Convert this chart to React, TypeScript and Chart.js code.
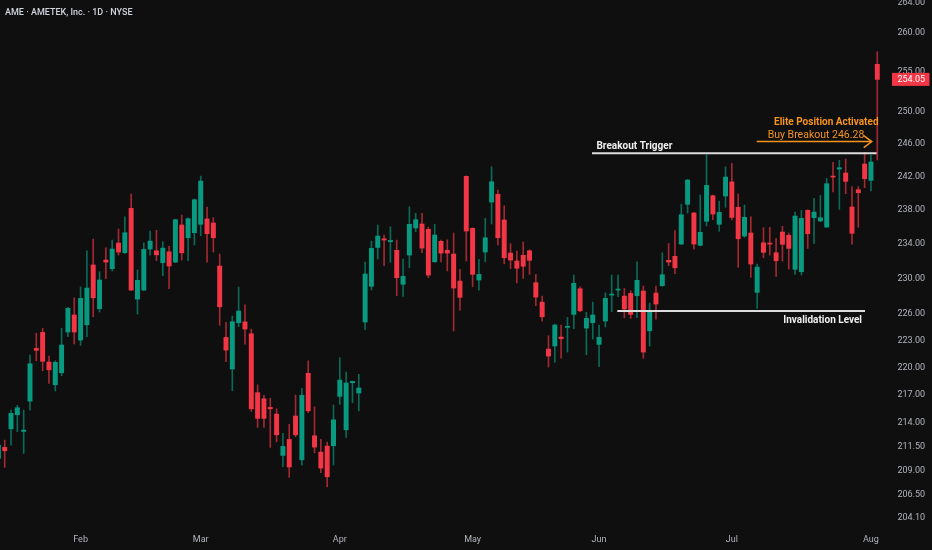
import React, { useEffect, useRef } from "react";
import { Chart, registerables } from "chart.js";

Chart.register(...registerables);

// ---- Daily OHLC values ----
const opens = [
  210.26, 211.42, 213.39, 214.89, 213.11, 216.36, 222.13, 223.91, 220.62, 218.13,
  219.44, 223.95, 225.86, 223.05, 224.76, 231.57, 226.57, 232.14, 231.14, 234.12,
  232.99, 238.21, 227.66, 228.69, 233.42, 233.22, 231.83, 233.10, 231.91, 236.24,
  234.74, 235.33, 236.32, 236.95, 236.48, 231.45, 223.35, 219.85, 224.99, 225.09,
  223.76, 217.27, 216.61, 215.68, 214.96, 210.57, 212.26, 214.75, 210.11, 219.38,
  212.65, 210.92, 211.55, 211.59, 216.87, 213.28, 218.35, 217.23, 225.07, 229.12,
  233.61, 234.62, 234.27, 233.27, 229.35, 232.72, 235.89, 236.36, 235.73, 231.94,
  234.32, 233.27, 232.84, 229.72, 242.05, 235.85, 229.84, 233.07, 238.96, 239.88,
  236.83, 232.95, 232.03, 232.69, 233.22, 229.53, 227.32, 222.05, 222.39, 223.39,
  224.47, 225.93, 228.84, 224.39, 224.99, 222.57, 225.18, 228.12, 228.69, 228.00,
  228.31, 228.04, 228.58, 224.09, 228.35, 229.19, 232.11, 232.57, 234.00, 238.69,
  237.66, 233.85, 236.68, 239.72, 236.32, 239.68, 241.38, 238.34, 234.94, 235.30,
  228.43, 234.15, 234.12, 232.99, 235.41, 235.03, 231.07, 230.79, 237.97, 237.10,
  236.71, 236.00, 242.08, 242.93, 242.45, 238.37, 240.44, 243.54, 241.56, 255.97,
];
const highs = [
  211.87, 212.19, 215.39, 215.90, 215.39, 221.39, 223.80, 224.36, 221.28, 220.76,
  224.36, 226.73, 227.81, 229.04, 233.22, 234.59, 230.79, 233.57, 234.47, 235.77,
  237.22, 239.92, 230.99, 234.15, 235.53, 235.61, 234.27, 233.73, 236.91, 237.42,
  237.10, 239.32, 242.08, 238.37, 237.10, 232.84, 225.03, 225.74, 229.04, 227.00,
  224.28, 218.13, 216.98, 216.66, 215.53, 212.90, 213.86, 217.01, 217.74, 220.76,
  215.75, 212.26, 211.98, 215.93, 221.09, 219.52, 218.53, 219.27, 231.91, 234.35,
  236.24, 235.06, 236.04, 234.47, 232.26, 238.40, 237.62, 237.62, 236.00, 236.32,
  234.47, 234.50, 235.30, 231.07, 242.10, 235.90, 232.22, 237.03, 243.21, 240.40,
  238.52, 234.04, 233.18, 234.24, 233.34, 230.49, 228.00, 223.53, 224.84, 224.73,
  225.59, 230.41, 229.07, 226.16, 227.32, 224.73, 228.38, 230.41, 230.41, 228.88,
  228.61, 231.94, 229.15, 227.21, 229.15, 232.99, 234.08, 235.57, 238.69, 241.68,
  237.70, 239.80, 244.64, 239.80, 239.08, 243.21, 243.63, 239.92, 238.61, 237.22,
  231.68, 235.92, 235.97, 234.67, 236.09, 235.30, 237.77, 237.97, 238.05, 239.40,
  239.76, 241.80, 243.75, 243.99, 244.15, 240.80, 240.80, 244.97, 244.64, 257.58,
];
const lows = [
  209.98, 209.32, 211.66, 213.07, 210.78, 215.39, 220.76, 219.66, 218.28, 217.45,
  219.11, 223.42, 222.61, 222.46, 223.42, 225.66, 226.19, 229.99, 230.87, 232.72,
  232.92, 228.61, 225.97, 228.61, 232.72, 232.06, 230.33, 228.84, 231.83, 232.14,
  232.06, 233.89, 234.98, 231.91, 233.07, 224.70, 220.65, 217.48, 224.54, 222.61,
  215.25, 213.54, 213.54, 211.42, 212.01, 209.39, 208.28, 212.54, 209.56, 215.10,
  210.85, 208.76, 207.30, 209.56, 216.01, 212.48, 216.18, 215.31, 224.20, 228.69,
  232.26, 231.49, 231.88, 228.04, 227.97, 231.25, 235.45, 232.99, 230.10, 231.88,
  231.94, 230.87, 224.06, 226.42, 232.03, 229.07, 228.69, 231.94, 236.36, 233.89,
  231.71, 231.14, 229.50, 230.03, 230.49, 226.91, 225.18, 220.07, 220.59, 221.06,
  221.72, 224.32, 226.23, 221.42, 223.16, 220.15, 224.51, 226.23, 227.93, 225.55,
  225.48, 225.55, 221.03, 222.39, 225.40, 229.10, 231.49, 230.56, 233.95, 237.66,
  233.42, 233.80, 236.12, 236.86, 235.50, 238.34, 236.83, 231.30, 234.79, 230.15,
  226.61, 232.41, 232.72, 230.26, 232.03, 231.10, 230.49, 230.41, 233.50, 234.08,
  236.65, 235.95, 240.16, 238.09, 239.96, 234.00, 235.97, 240.68, 240.28, 244.03,
];
const closes = [
  211.66, 211.06, 215.04, 215.64, 213.25, 220.43, 221.91, 220.70, 219.77, 220.59,
  222.50, 226.61, 223.95, 227.74, 228.92, 227.81, 229.84, 231.91, 233.42, 233.07,
  235.33, 228.69, 229.81, 233.38, 234.35, 232.75, 233.53, 231.45, 236.87, 232.99,
  236.98, 239.24, 241.48, 235.21, 234.74, 226.79, 221.94, 225.10, 226.31, 224.28,
  215.53, 214.50, 214.50, 215.53, 212.75, 211.52, 209.36, 212.75, 216.98, 215.31,
  211.45, 209.25, 208.34, 214.35, 218.64, 218.32, 218.50, 217.78, 230.53, 233.50,
  234.94, 234.47, 234.43, 230.10, 230.26, 236.32, 236.87, 233.53, 230.41, 235.06,
  232.95, 232.95, 228.92, 227.86, 235.53, 230.49, 230.49, 234.74, 241.40, 234.74,
  232.41, 232.14, 231.19, 231.42, 232.11, 227.89, 225.66, 221.28, 224.73, 223.20,
  224.59, 229.46, 226.34, 225.48, 225.86, 223.35, 227.74, 228.23, 228.80, 226.53,
  225.93, 229.81, 221.72, 226.19, 227.10, 230.45, 231.91, 231.25, 237.45, 241.60,
  234.00, 235.38, 240.96, 237.54, 237.74, 241.96, 237.13, 234.62, 237.15, 231.68,
  231.33, 233.03, 234.00, 232.06, 233.97, 233.50, 237.30, 237.03, 235.21, 237.77,
  237.10, 241.16, 241.96, 243.09, 241.44, 235.26, 240.08, 241.76, 243.79, 254.05,
];

// ---- Axis labels ----
const monthTickIndex = [13, 32, 54, 75, 95, 116, 138];
const monthTickLabels = ["Feb", "Mar", "Apr", "May", "Jun", "Jul", "Aug"];
const priceTicks = [264, 260, 255, 250, 246, 242, 238, 234, 230, 226, 223, 220, 217, 214, 211.5, 209, 206.5, 204.1];

// ---- Annotation levels ----
const titleText = "AME · AMETEK, Inc. · 1D · NYSE";
const lastPrice = 254.05;
const breakoutLevel = 244.85;
const breakoutRange = [93.88, 138.9];
const invalidationLevel = 226.31;
const invalidationRange = [97.88, 137.06];
const buyLevel = 246.28;
const buyRange = [119.93, 138.12];

const UP = "#089981";
const DOWN = "#F23645";
const UP_WICK = "rgba(8,153,129,0.65)";
const DOWN_WICK = "rgba(242,54,69,0.65)";
const ORANGE = "#F7941D";
const BG = "#0f0f0f";
const AXIS_TEXT = "#b2b5be";
const FONT = "Roboto, 'Noto Sans', sans-serif";

const isUp = (i: number) => closes[i] >= opens[i];

const bgPlugin = {
  id: "bg",
  beforeDraw(chart: any) {
    const { ctx, width, height } = chart;
    ctx.save();
    ctx.fillStyle = BG;
    ctx.fillRect(0, 0, width, height);
    ctx.restore();
  },
};

const annotationPlugin = {
  id: "annotations",
  afterDatasetsDraw(chart: any) {
    const { ctx, chartArea } = chart;
    const x = chart.scales.x;
    const y = chart.scales.y;
    ctx.save();
    ctx.beginPath();
    ctx.rect(chartArea.left, chartArea.top, chartArea.right - chartArea.left, chartArea.bottom - chartArea.top);
    ctx.clip();

    // Breakout trigger line
    const by = y.getPixelForValue(breakoutLevel);
    const bx0 = x.getPixelForValue(breakoutRange[0]);
    const bx1 = x.getPixelForValue(breakoutRange[1]);
    ctx.strokeStyle = "#dcdcdc";
    ctx.lineWidth = 2;
    ctx.beginPath();
    ctx.moveTo(bx0, by);
    ctx.lineTo(bx1, by);
    ctx.stroke();
    ctx.fillStyle = "#f0f0f0";
    ctx.font = `bold 10px ${FONT}`;
    ctx.textAlign = "left";
    ctx.textBaseline = "middle";
    ctx.fillText("Breakout Trigger", bx0 + 4.5, by - 7);

    // Invalidation line
    const iy = y.getPixelForValue(invalidationLevel);
    const ix0 = x.getPixelForValue(invalidationRange[0]);
    const ix1 = x.getPixelForValue(invalidationRange[1]);
    ctx.beginPath();
    ctx.moveTo(ix0, iy);
    ctx.lineTo(ix1, iy);
    ctx.stroke();
    ctx.textAlign = "right";
    ctx.fillText("Invalidation Level", ix1 - 3, iy + 9);

    // Buy breakout arrow
    const uy = y.getPixelForValue(buyLevel);
    const ux0 = x.getPixelForValue(buyRange[0]);
    const ux1 = x.getPixelForValue(buyRange[1]);
    ctx.strokeStyle = ORANGE;
    ctx.lineWidth = 1.5;
    ctx.beginPath();
    ctx.moveTo(ux0, uy);
    ctx.lineTo(ux1, uy);
    ctx.stroke();
    ctx.beginPath();
    ctx.moveTo(ux1 - 8, uy - 6);
    ctx.lineTo(ux1, uy);
    ctx.lineTo(ux1 - 8, uy + 6);
    ctx.stroke();
    ctx.fillStyle = ORANGE;
    ctx.font = `10.5px ${FONT}`;
    ctx.textAlign = "left";
    ctx.fillText("Buy Breakout 246.28", ux0 + 11, uy - 6.3);
    ctx.font = `bold 10px ${FONT}`;
    ctx.textAlign = "right";
    ctx.fillText("Elite Position Activated", ux1 + 6.8, uy - 19.6);

    ctx.restore();
  },
  afterDraw(chart: any) {
    const { ctx, chartArea } = chart;
    const y = chart.scales.y;
    ctx.save();
    // last price tag
    const py = y.getPixelForValue(lastPrice);
    ctx.fillStyle = DOWN;
    ctx.fillRect(chartArea.right + 12, py - 6.5, 37.5, 13);
    ctx.fillStyle = "#ffffff";
    ctx.font = `9px ${FONT}`;
    ctx.textAlign = "left";
    ctx.textBaseline = "middle";
    ctx.fillText(lastPrice.toFixed(2), chartArea.right + 17.5, py);
    // title
    ctx.fillStyle = "#d1d4dc";
    ctx.font = `500 9px ${FONT}`;
    ctx.textBaseline = "middle";
    ctx.fillText(titleText, 5, 12.3);
    ctx.restore();
  },
};

export default function App() {
  const canvasRef = useRef<HTMLCanvasElement | null>(null);

  useEffect(() => {
    const canvas = canvasRef.current;
    if (!canvas) return;

    const wicks = opens.map((_, i) => ({ x: i, y: [lows[i], highs[i]] }));
    const bodies = opens.map((o, i) => ({ x: i, y: [Math.min(o, closes[i]), Math.max(o, closes[i])] }));

    const chart = new Chart(canvas, {
      type: "bar",
      data: {
        datasets: [
          {
            label: "wick",
            data: wicks as any,
            backgroundColor: (c: any) => (isUp(c.dataIndex) ? UP_WICK : DOWN_WICK),
            barThickness: 1,
            grouped: false,
            borderWidth: 0,
            order: 2,
          } as any,
          {
            label: "body",
            data: bodies as any,
            backgroundColor: (c: any) => (isUp(c.dataIndex) ? UP : DOWN),
            barThickness: 4.3,
            minBarLength: 1,
            grouped: false,
            borderWidth: 0,
            order: 1,
          } as any,
        ],
      },
      options: {
        animation: false,
        responsive: false,
        events: [],
        layout: { padding: 0 },
        plugins: {
          legend: { display: false },
          tooltip: { enabled: false },
          title: { display: false },
        },
        scales: {
          x: {
            type: "linear",
            position: "bottom",
            min: 0.257,
            max: 139.43,
            offset: false,
            grid: { display: false, drawTicks: false },
            border: { display: false },
            afterBuildTicks: (s: any) => {
              s.ticks = monthTickIndex.map((v) => ({ value: v }));
            },
            afterFit: (s: any) => {
              s.height = 22;
              s.paddingLeft = 0;
              s.paddingRight = 0;
              s.paddingTop = 0;
              s.paddingBottom = 0;
            },
            ticks: {
              autoSkip: false,
              maxRotation: 0,
              padding: 6.5,
              color: AXIS_TEXT,
              font: { family: FONT, size: 9 },
              callback: (v: any) => {
                const k = monthTickIndex.indexOf(Number(v));
                return k >= 0 ? monthTickLabels[k] : "";
              },
            },
          },
          y: {
            type: "logarithmic",
            position: "right",
            min: 203.08,
            max: 264.32,
            beginAtZero: false,
            grid: { display: false, drawTicks: false },
            border: { display: false },
            afterBuildTicks: (s: any) => {
              s.ticks = priceTicks.map((v) => ({ value: v }));
            },
            afterFit: (s: any) => {
              s.width = 52;
              s.paddingLeft = 0;
              s.paddingRight = 0;
              s.paddingTop = 0;
              s.paddingBottom = 0;
            },
            ticks: {
              autoSkip: false,
              padding: 17.5,
              color: AXIS_TEXT,
              font: { family: FONT, size: 9 },
              callback: (v: any) => Number(v).toFixed(2),
            },
          },
        },
      } as any,
      plugins: [bgPlugin, annotationPlugin],
    });

    return () => chart.destroy();
  }, []);

  return (
    <div style={{ position: "absolute", left: 0, top: 0, width: 932, height: 550, background: BG }}>
      <canvas ref={canvasRef} width={932} height={550} style={{ width: 932, height: 550, display: "block" }} />
    </div>
  );
}
